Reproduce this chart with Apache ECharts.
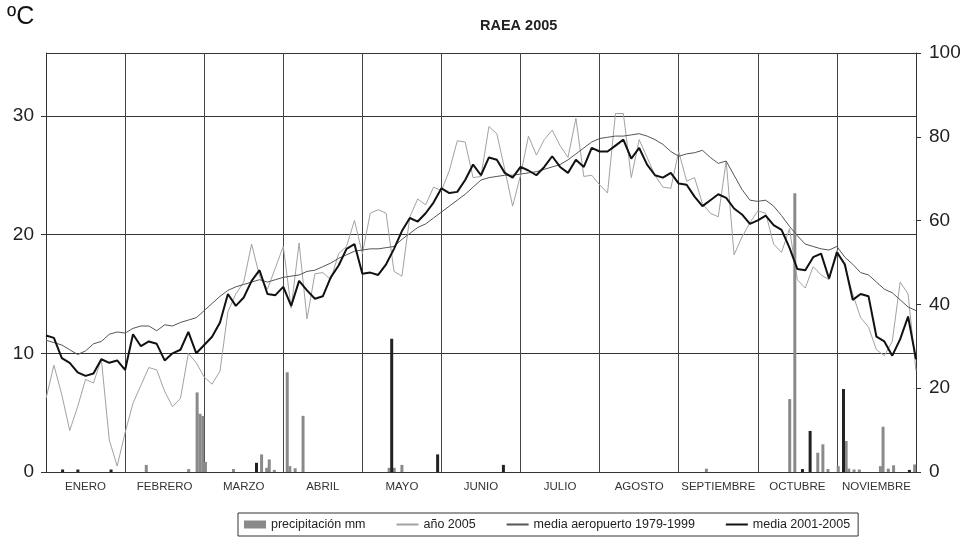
<!DOCTYPE html>
<html>
<head>
<meta charset="utf-8">
<title>RAEA 2005</title>
<script src="https://cdn.jsdelivr.net/npm/echarts@6/dist/echarts.min.js"></script>
<style>
  html, body { margin: 0; padding: 0; background: #ffffff; }
  #chart { width: 968px; height: 551px; }
</style>
</head>
<body>
<div id="chart"></div>
<script>
// Meses del eje horizontal y su número de días
const meses = ['ENERO', 'FEBRERO', 'MARZO', 'ABRIL', 'MAYO', 'JUNIO', 'JULIO',
               'AGOSTO', 'SEPTIEMBRE', 'OCTUBRE', 'NOVIEMBRE'];
const diasMes = [31, 28, 31, 30, 31, 30, 31, 31, 30, 31, 30];

// Temperaturas (ºC), un valor cada décima de mes (de 1 de enero a 30 de noviembre)
const pasoMes = 0.1;
const anio2005 = [
  6.2, 9.0, 6.5, 3.5, 5.5, 7.8, 7.5, 9.5, 2.7, 0.5,
  3.3, 5.8, 7.3, 8.8, 8.6, 6.8, 5.5, 6.2, 10.0, 9.2,
  8.0, 7.4, 8.5, 13.5, 15.0, 16.0, 19.2, 16.5, 15.4, 17.2,
  19.0, 13.8, 19.3, 12.9, 16.7, 16.8, 16.2, 18.4, 19.0, 21.2,
  18.4, 21.8, 22.1, 21.8, 16.9, 16.5, 21.5, 23.0, 22.5, 24.0,
  23.7, 25.4, 27.9, 27.8, 24.8, 24.9, 29.1, 28.5, 25.5, 22.4,
  25.0, 28.3, 26.7, 28.0, 28.8, 27.5, 26.5, 29.8, 24.9, 25.0,
  24.2, 23.5, 30.2, 30.2, 24.8, 28.0, 26.5, 25.0, 24.0, 23.9,
  27.0, 24.5, 24.8, 22.6, 21.8, 21.5, 26.2, 18.3, 19.8, 21.0,
  22.0, 21.8, 19.2, 18.5, 20.5, 16.2, 15.5, 17.3, 16.6, 16.2,
  18.7, 17.3, 15.0, 13.0, 12.2, 10.3, 9.8, 11.0, 16.0, 15.0, 8.5
];
const mediaAeropuerto = [
  11.1, 10.9, 10.7, 10.3, 9.9, 10.2, 10.8, 11.0, 11.6, 11.8,
  11.7, 12.1, 12.3, 12.3, 11.9, 12.4, 12.3, 12.6, 12.8, 13.0,
  13.6, 14.2, 14.8, 15.3, 15.6, 15.8, 16.0, 16.2, 16.0, 16.2,
  16.4, 16.5, 16.6, 16.9, 17.0, 17.3, 17.6, 18.0, 18.3, 18.6,
  18.7, 18.8, 18.8, 18.9, 19.0, 19.6, 20.1, 20.6, 20.9, 21.4,
  21.9, 22.4, 22.9, 23.4, 24.0, 24.6, 24.8, 24.9, 25.0, 25.0,
  25.1, 25.2, 25.3, 25.5, 25.7, 25.9, 26.3, 26.8, 27.3, 27.8,
  28.1, 28.2, 28.3, 28.3, 28.4, 28.5, 28.3, 28.0, 27.6, 27.0,
  26.6, 26.8, 26.9, 27.1, 26.5, 26.0, 26.2, 25.0, 23.8, 22.9,
  22.8, 22.9, 22.4, 21.6, 20.7, 19.9, 19.2, 19.0, 18.8, 18.7,
  19.0, 18.1, 17.5, 16.8, 16.6, 16.0, 15.4, 15.1, 14.5, 13.9, 13.6
];
const media2001_2005 = [
  11.5, 11.3, 9.6, 9.2, 8.4, 8.1, 8.3, 9.5, 9.2, 9.4,
  8.6, 11.6, 10.6, 11.0, 10.8, 9.4, 10.0, 10.3, 11.8, 10.0,
  10.7, 11.4, 12.6, 15.0, 14.0, 14.7, 16.1, 17.0, 15.0, 14.9,
  15.6, 14.0, 16.1, 15.3, 14.6, 14.8, 16.4, 17.4, 18.8, 19.2,
  16.7, 16.8, 16.6, 17.5, 18.8, 20.3, 21.4, 21.1, 21.8, 22.7,
  23.9, 23.5, 23.6, 24.6, 25.9, 25.0, 26.5, 26.3, 25.2, 24.8,
  25.7, 25.4, 25.0, 25.7, 26.6, 25.7, 25.2, 26.3, 25.7, 27.3,
  27.0, 27.0, 27.5, 28.0, 26.4, 27.3, 25.9, 25.0, 24.8, 25.2,
  24.3, 24.2, 23.2, 22.4, 22.9, 23.4, 23.1, 22.2, 21.7, 20.9,
  21.2, 21.6, 20.8, 20.4, 18.9, 17.1, 17.0, 18.1, 18.4, 16.3,
  18.5, 17.5, 14.5, 15.0, 14.8, 11.4, 11.0, 9.8, 11.2, 13.1, 9.5
];

// Precipitación diaria (mm): [día del año, mm]
const lluviaGris = [
  [39, 1.7], [54, 0.7], [57, 19.0], [58, 13.9], [59, 13.4], [60, 2.4],
  [71, 0.7], [82, 4.2], [84, 1.0], [85, 3.0], [87, 0.5],
  [92, 23.8], [93, 1.4], [95, 0.9], [98, 13.4],
  [131, 1.0], [133, 1.0], [136, 1.7], [254, 0.8],
  [286, 17.4], [288, 66.5], [297, 4.6], [299, 6.6], [301, 0.7],
  [305, 1.4], [308, 7.4], [309, 0.8], [311, 0.6], [313, 0.6],
  [321, 1.4], [322, 10.8], [324, 0.8], [326, 1.6], [334, 1.8]
];
const lluviaOscura = [
  [7, 0.6], [13, 0.6], [26, 0.6], [80, 2.2], [132, 31.8], [150, 4.2],
  [175, 1.7], [291, 0.7], [294, 9.8], [307, 19.8], [332, 0.5]
];

// Día del año -> posición en meses sobre el eje (centro del día)
function posicionDia(doy) {
  let m = 0, d = doy;
  while (m < diasMes.length - 1 && d > diasMes[m]) { d -= diasMes[m]; m++; }
  return m + (d - 0.5) / diasMes[m];
}
const serieTemp = arr => arr.map((v, i) => [i * pasoMes, v]);
const serieLluvia = arr => arr.map(([doy, mm]) => [posicionDia(doy), mm]);

const fuente = '"Liberation Sans", Arial, Helvetica, sans-serif';
const chart = echarts.init(document.getElementById('chart'));

// En la leyenda las líneas se muestran sin marcador
const sinMarcador = { opacity: 0 };

chart.setOption({
  animation: false,
  backgroundColor: '#ffffff',
  textStyle: { fontFamily: fuente },
  title: {
    text: 'RAEA 2005',
    left: 475, top: 13,
    textStyle: { fontSize: 14.5, fontWeight: 'bold', color: '#222', fontFamily: fuente }
  },
  graphic: [{
    type: 'text', left: 7, top: 5,
    style: { text: 'ºC', font: '25px ' + fuente, fill: '#111' }
  }],
  grid: { left: 46, right: 52, top: 53, bottom: 79 },
  legend: {
    left: 238, top: 513,
    padding: [5, 8, 5, 6],
    itemGap: 30, itemWidth: 22, itemHeight: 8,
    borderColor: '#333', borderWidth: 1,
    textStyle: { fontSize: 12.5, color: '#222', fontFamily: fuente },
    data: [
      { name: 'precipitación mm', icon: 'rect' },
      { name: 'año 2005', itemStyle: sinMarcador },
      { name: 'media aeropuerto 1979-1999', itemStyle: sinMarcador },
      { name: 'media 2001-2005', itemStyle: sinMarcador }
    ]
  },
  xAxis: [
    {
      type: 'category', data: meses, boundaryGap: true,
      axisLine: { lineStyle: { color: '#333', width: 1 } },
      axisTick: { show: false },
      axisLabel: { interval: 0, fontSize: 11.5, color: '#333', margin: 9 },
      splitLine: { show: true, interval: 0, lineStyle: { color: '#444', width: 1 } }
    },
    { type: 'value', min: 0, max: 11, show: false }
  ],
  yAxis: [
    {
      type: 'value', min: 0, max: 35.3, interval: 10,
      axisLine: { show: true, lineStyle: { color: '#333' } },
      axisTick: { show: true, length: 5, lineStyle: { color: '#333' } },
      axisLabel: { fontSize: 19, color: '#222', margin: 12, showMaxLabel: false },
      splitLine: { show: true, lineStyle: { color: '#333', width: 1 } }
    },
    {
      type: 'value', min: 0, max: 100, interval: 20, position: 'right',
      axisLine: { show: true, lineStyle: { color: '#333' } },
      axisTick: { show: true, length: 5, lineStyle: { color: '#333' } },
      axisLabel: { fontSize: 19, color: '#222', margin: 13 },
      splitLine: { show: false }
    }
  ],
  series: [
    {
      name: 'precipitación mm', type: 'bar', xAxisIndex: 1, yAxisIndex: 1,
      data: serieLluvia(lluviaGris), barWidth: 3, barGap: '-100%',
      itemStyle: { color: '#8a8a8a' }
    },
    {
      name: 'precipitación registro', type: 'bar', xAxisIndex: 1, yAxisIndex: 1,
      data: serieLluvia(lluviaOscura), barWidth: 3, barGap: '-100%',
      itemStyle: { color: '#222' }
    },
    {
      name: 'año 2005', type: 'line', xAxisIndex: 1, yAxisIndex: 0,
      data: serieTemp(anio2005), showSymbol: false, symbol: 'none',
      lineStyle: { color: '#a2a2a2', width: 1 }, itemStyle: { color: '#a2a2a2' }
    },
    {
      name: 'media aeropuerto 1979-1999', type: 'line', xAxisIndex: 1, yAxisIndex: 0,
      data: serieTemp(mediaAeropuerto), showSymbol: false, symbol: 'none',
      lineStyle: { color: '#555', width: 1 }, itemStyle: { color: '#555' }
    },
    {
      name: 'media 2001-2005', type: 'line', xAxisIndex: 1, yAxisIndex: 0,
      data: serieTemp(media2001_2005), showSymbol: false, symbol: 'none',
      lineStyle: { color: '#111', width: 2 }, itemStyle: { color: '#111' }
    }
  ]
});
</script>
</body>
</html>
